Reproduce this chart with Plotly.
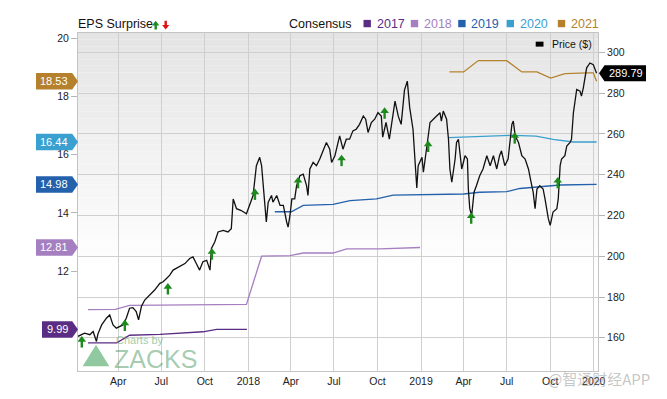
import plotly.graph_objects as go

FONT = "Liberation Sans, Arial, Helvetica, sans-serif"

# ---------------- data ----------------
price_dates = [
    "2017-01-06", "2017-01-20", "2017-01-31", "2017-02-07", "2017-02-14", "2017-02-17", "2017-02-25",
    "2017-03-07", "2017-03-14", "2017-03-21", "2017-03-28", "2017-04-04", "2017-04-11", "2017-04-18",
    "2017-04-25", "2017-05-02", "2017-05-09", "2017-05-14", "2017-05-20", "2017-05-27", "2017-06-07",
    "2017-06-17", "2017-06-28", "2017-07-05", "2017-07-12", "2017-07-19", "2017-07-26", "2017-08-02",
    "2017-08-09", "2017-08-20", "2017-08-30", "2017-09-06", "2017-09-13", "2017-09-20", "2017-09-27",
    "2017-10-05", "2017-10-12", "2017-10-15", "2017-10-22", "2017-10-29", "2017-11-09", "2017-11-19",
    "2017-11-26", "2017-11-30", "2017-12-07", "2017-12-17", "2017-12-28", "2018-01-04", "2018-01-11",
    "2018-01-18", "2018-01-25", "2018-01-29", "2018-02-05", "2018-02-08", "2018-02-12", "2018-02-19",
    "2018-02-22", "2018-03-02", "2018-03-09", "2018-03-16", "2018-03-23", "2018-03-26", "2018-03-30",
    "2018-04-03", "2018-04-09", "2018-04-13", "2018-04-20", "2018-04-27", "2018-05-04", "2018-05-07",
    "2018-05-11", "2018-05-18", "2018-05-25", "2018-06-01", "2018-06-12", "2018-06-15", "2018-06-22",
    "2018-06-26", "2018-07-03", "2018-07-10", "2018-07-13", "2018-07-20", "2018-07-27", "2018-08-03",
    "2018-08-10", "2018-08-17", "2018-08-24", "2018-09-01", "2018-09-06", "2018-09-11", "2018-09-18",
    "2018-09-25", "2018-10-02", "2018-10-09", "2018-10-12", "2018-10-19", "2018-10-26", "2018-11-07",
    "2018-11-14", "2018-11-20", "2018-11-27", "2018-12-03", "2018-12-08", "2018-12-15", "2018-12-19",
    "2018-12-23", "2018-12-26", "2019-01-03", "2019-01-06", "2019-01-13", "2019-01-20", "2019-01-27",
    "2019-02-03", "2019-02-10", "2019-02-13", "2019-02-17", "2019-02-24", "2019-02-28", "2019-03-03",
    "2019-03-07", "2019-03-14", "2019-03-17", "2019-03-21", "2019-03-28", "2019-04-04", "2019-04-09",
    "2019-04-11", "2019-04-14", "2019-04-18", "2019-04-23", "2019-04-28", "2019-05-05", "2019-05-12",
    "2019-05-20", "2019-05-27", "2019-06-03", "2019-06-10", "2019-06-16", "2019-06-20", "2019-06-27",
    "2019-07-04", "2019-07-12", "2019-07-15", "2019-07-19", "2019-07-26", "2019-08-02", "2019-08-09",
    "2019-08-16", "2019-08-23", "2019-08-26", "2019-08-30", "2019-09-03", "2019-09-09", "2019-09-16",
    "2019-09-20", "2019-09-27", "2019-10-01", "2019-10-07", "2019-10-15", "2019-10-18", "2019-10-22",
    "2019-10-25", "2019-11-01", "2019-11-05", "2019-11-12", "2019-11-15", "2019-11-19", "2019-11-26",
    "2019-12-03", "2019-12-06", "2019-12-10", "2019-12-17", "2019-12-24", "2019-12-31", "2020-01-07",
]
price_values = [
    160.7, 162.3, 161.5, 163.1, 158.2, 161.8, 166.3,
    169.6, 171.2, 166.3, 164.7, 165.6, 166.3, 169.6,
    174.5, 174.8, 172.9, 168.8, 175.3, 178.5, 181.0,
    183.4, 186.7, 187.5, 189.1, 190.7, 193.2, 194.0,
    194.8, 196.4, 198.9, 199.7, 196.4, 193.2, 197.3,
    198.0, 193.2, 203.8, 207.0, 211.9, 212.7, 211.9,
    213.5, 228.1, 223.3, 222.4, 220.8, 224.9, 229.8,
    244.4, 248.5, 244.4, 221.7, 216.8, 226.5, 229.8,
    226.5, 229.8, 224.9, 224.9, 216.8, 214.3, 220.0,
    228.1, 228.1, 234.6, 239.5, 240.3, 234.6, 229.8,
    242.8, 246.0, 244.4, 247.7, 254.1, 255.8, 252.5,
    246.0, 249.3, 255.8, 259.0, 252.5, 257.4, 257.4,
    261.5, 262.3, 264.7, 268.8, 267.2, 260.7, 265.6,
    267.2, 270.4, 268.8, 258.4, 265.6, 257.4, 276.1,
    268.6, 264.7, 281.5, 285.9, 273.0, 262.3, 250.1,
    233.5, 244.4, 248.5, 241.2, 254.1, 265.6, 267.2,
    268.8, 270.4, 266.3, 271.2, 267.2, 257.4, 242.8,
    236.3, 247.7, 255.8, 257.4, 242.8, 249.3, 247.7,
    233.0, 223.3, 220.0, 231.4, 234.6, 239.5, 242.8,
    249.3, 244.4, 249.3, 242.8, 249.3, 251.7, 244.4,
    247.7, 264.7, 266.3, 259.0, 255.8, 249.3, 247.7,
    242.8, 234.6, 231.4, 223.3, 233.0, 234.6, 233.0,
    228.1, 218.4, 215.1, 221.7, 223.3, 228.1, 244.4,
    247.7, 249.3, 254.1, 255.8, 257.4, 270.4, 281.8,
    281.0, 278.5, 282.6, 292.4, 294.8, 294.0, 289.79,
]

c2017_dates = ["2017-01-27", "2017-03-29", "2017-04-25", "2017-06-28", "2017-09-27", "2017-10-26", "2017-12-29"]
c2017_eps = [9.53, 9.53, 9.79, 9.82, 9.91, 9.99, 9.99]

c2018_dates = ["2017-01-27", "2017-03-26", "2017-04-25", "2017-12-28", "2018-01-29", "2018-03-30",
               "2018-04-27", "2018-06-29", "2018-07-28", "2018-10-06", "2018-12-30"]
c2018_eps = [10.67, 10.68, 10.82, 10.85, 12.51, 12.53, 12.62, 12.62, 12.76, 12.76, 12.81]

c2019_dates = ["2018-02-26", "2018-04-02", "2018-04-27", "2018-06-29", "2018-08-04", "2018-09-29",
               "2018-11-03", "2019-01-20", "2019-04-01", "2019-05-05", "2019-07-01", "2019-07-29",
               "2019-08-26", "2019-10-22", "2020-01-07"]
c2019_eps = [14.04, 14.04, 14.26, 14.29, 14.42, 14.48, 14.61, 14.63, 14.65, 14.71, 14.73, 14.84,
             14.88, 14.96, 14.98]

c2020_dates = ["2019-02-28", "2019-05-05", "2019-07-15", "2019-09-01", "2019-10-07", "2019-11-19", "2020-01-07"]
c2020_eps = [16.59, 16.64, 16.67, 16.64, 16.53, 16.44, 16.44]

c2021_dates = ["2019-03-02", "2019-04-01", "2019-05-02", "2019-07-01", "2019-08-02", "2019-09-03",
               "2019-10-02", "2019-11-01", "2019-12-17", "2019-12-31", "2020-01-07"]
c2021_eps = [18.85, 18.85, 19.24, 19.24, 18.85, 18.85, 18.64, 18.79, 18.82, 18.82, 18.53]

surprise_dates = ["2017-01-14", "2017-04-15", "2017-07-15", "2017-10-16", "2018-01-15", "2018-04-16",
                  "2018-07-17", "2018-10-16", "2019-01-16", "2019-04-17", "2019-07-18", "2019-10-17"]
surprise_prices = [158.2, 166.3, 184.2, 201.3, 230.6, 236.3, 247.2, 270.4, 254.1, 218.9, 258.2, 236.3]

tick_dates = ["2017-04-01", "2017-07-01", "2017-10-01", "2018-01-01", "2018-04-01", "2018-07-01",
              "2018-10-01", "2019-01-01", "2019-04-01", "2019-07-01", "2019-10-01", "2020-01-01"]
tick_labels = ["Apr", "Jul", "Oct", "2018", "Apr", "Jul", "Oct", "2019", "Apr", "Jul", "Oct", "2020"]

years = ["2017", "2018", "2019", "2020", "2021"]
year_colors = ["#5b2c83", "#a57fc0", "#2461ac", "#3aa0cf", "#b5812d"]
cons_dates = [c2017_dates, c2018_dates, c2019_dates, c2020_dates, c2021_dates]
cons_eps = [c2017_eps, c2018_eps, c2019_eps, c2020_eps, c2021_eps]

# ---------------- layout constants ----------------
# the page body has an 8px margin, so the figure is made 8px smaller and
# all "page pixel" positions below are converted accordingly.
OFF = 8
W, H = 667 - OFF, 399 - OFF
PL, PR, PT, PB = 78, 598, 33, 373          # plot area in page pixels
ML, MR, MT, MB = PL - OFF, 667 - PR, PT - OFF, 399 - PB
PW = PR - PL
PH = PB - PT
EPS_RANGE = [8.56, 20.19]
PRICE_RANGE = [143.7, 309.5]


def px_x(px):
    return (px - PL) / PW


def px_y(py):
    return 1 - (py - PT) / PH


eps_per_px = (EPS_RANGE[1] - EPS_RANGE[0]) / PH
price_per_px = (PRICE_RANGE[1] - PRICE_RANGE[0]) / PH

GREEN = "#1e8a1e"
RED = "#e01010"

fig = go.Figure()

for yr, col, d, v in zip(years, year_colors, cons_dates, cons_eps):
    fig.add_trace(go.Scatter(x=d, y=v, mode="lines", line=dict(color=col, width=1.3),
                             yaxis="y", showlegend=False, hoverinfo="skip"))

fig.add_trace(go.Scatter(x=price_dates, y=price_values, mode="lines",
                         line=dict(color="#111111", width=1.3), yaxis="y2",
                         showlegend=False, name="Price ($)"))

# EPS surprise arrows: head (triangle) + stem (short vertical bar)
fig.add_trace(go.Scatter(x=surprise_dates, y=[p + 1.6 * price_per_px for p in surprise_prices],
                         mode="markers", yaxis="y2", showlegend=False, hoverinfo="skip",
                         marker=dict(symbol="triangle-up", size=7.5, color=GREEN,
                                     line=dict(width=0))))
fig.add_trace(go.Scatter(x=surprise_dates, y=[p - 2.6 * price_per_px for p in surprise_prices],
                         mode="markers", yaxis="y2", showlegend=False, hoverinfo="skip",
                         marker=dict(symbol="line-ns", size=5, color=GREEN,
                                     line=dict(width=2.4, color=GREEN))))

shapes = []
annotations = []

# background gradient
N = 36
g_top, g_bot = 1.0, 0.30
for i in range(N):
    y1 = g_top - i * (g_top - g_bot) / N
    y0 = y1 - (g_top - g_bot) / N
    g = int(round(228 + (255 - 228) * (i + 0.5) / N))
    shapes.append(dict(type="rect", xref="paper", yref="paper", x0=0, x1=1, y0=y0, y1=y1,
                       fillcolor=f"rgb({g},{g},{g})", line=dict(width=0), layer="below"))

# left consensus tags
tip = px_x(PL)
body_r = px_x(PL - 5.8)
half = 8.3 * eps_per_px
for yr, col, v in zip(years, year_colors, cons_eps):
    val = v[-1]
    label = f"{val:.2f}"
    left = px_x(42 if len(label) <= 4 else 36)
    path = (f"M {left},{val - half} L {body_r},{val - half} L {tip},{val} "
            f"L {body_r},{val + half} L {left},{val + half} Z")
    shapes.append(dict(type="path", xref="paper", yref="y", path=path, fillcolor=col,
                       line=dict(width=0), layer="above"))
    annotations.append(dict(x=(left + body_r) / 2, y=val, xref="paper", yref="y", text=label,
                            showarrow=False, font=dict(family=FONT, size=11, color="white"),
                            xanchor="center", yanchor="middle"))

# right price tag
last_price = price_values[-1]
ph = 8.0 * price_per_px
r_tip = px_x(599)
r_body = px_x(604.5)
r_right = px_x(646)
path = (f"M {r_tip},{last_price} L {r_body},{last_price + ph} L {r_right},{last_price + ph} "
        f"L {r_right},{last_price - ph} L {r_body},{last_price - ph} Z")
shapes.append(dict(type="path", xref="paper", yref="y2", path=path, fillcolor="black",
                   line=dict(width=0), layer="above"))
annotations.append(dict(x=(r_body + r_right) / 2 + 0.002, y=last_price, xref="paper", yref="y2",
                        text=f"{last_price:.2f}", showarrow=False,
                        font=dict(family=FONT, size=11, color="white"),
                        xanchor="center", yanchor="middle"))


def arrow_path(cx, y_tip, y_tail):
    """Arrow in page pixels -> paper path. Head at y_tip."""
    sgn = 1 if y_tail > y_tip else -1
    head_len = 4.6
    hw, sw = 3.6, 1.2
    yb = y_tip + sgn * head_len
    pts = [(cx, y_tip), (cx + hw, yb), (cx + sw, yb), (cx + sw, y_tail),
           (cx - sw, y_tail), (cx - sw, yb), (cx - hw, yb)]
    s = "M " + " L ".join(f"{px_x(a):.5f},{px_y(b):.5f}" for a, b in pts) + " Z"
    return s


# top legend: EPS Surprise
ly = px_y(24)
annotations.append(dict(x=0, y=ly, xref="paper", yref="paper", text="EPS Surprise", showarrow=False,
                        xanchor="left", yanchor="middle", xshift=-2,
                        font=dict(family=FONT, size=12.5, color="#111")))
shapes.append(dict(type="path", xref="paper", yref="paper", path=arrow_path(155.7, 20.8, 29.5),
                   fillcolor=GREEN, line=dict(width=0)))
shapes.append(dict(type="path", xref="paper", yref="paper", path=arrow_path(165.7, 29.5, 20.8),
                   fillcolor=RED, line=dict(width=0)))

# consensus legend
annotations.append(dict(x=px_x(286.5), y=ly, xref="paper", yref="paper", text="Consensus",
                        showarrow=False, xanchor="left", yanchor="middle",
                        font=dict(family=FONT, size=12.5, color="#111")))
sq_x = [363.5, 410.8, 458.2, 506.6, 557.8]
for yr, col, sx in zip(years, year_colors, sq_x):
    shapes.append(dict(type="rect", xref="paper", yref="paper", x0=px_x(sx), x1=px_x(sx + 7.4),
                       y0=px_y(27.2), y1=px_y(19.8), fillcolor=col, line=dict(width=0)))
    annotations.append(dict(x=px_x(sx + 11), y=ly, xref="paper", yref="paper", text=yr,
                            showarrow=False, xanchor="left", yanchor="middle",
                            font=dict(family=FONT, size=12.5, color=col)))

# price legend inside plot
shapes.append(dict(type="rect", xref="paper", yref="paper", x0=px_x(535.7), x1=px_x(543.5),
                   y0=px_y(46.7), y1=px_y(41.7), fillcolor="black", line=dict(width=0)))
annotations.append(dict(x=px_x(549.5), y=px_y(44.2), xref="paper", yref="paper", text="Price ($)",
                        showarrow=False, xanchor="left", yanchor="middle",
                        font=dict(family=FONT, size=10.5, color="#111")))

# Zacks watermark
shapes.append(dict(type="path", xref="paper", yref="paper",
                   path=f"M {px_x(82.7)},{px_y(368.3)} L {px_x(96)},{px_y(346.7)} "
                        f"L {px_x(109.3)},{px_y(368.3)} Z",
                   fillcolor="rgba(70,165,95,0.6)", line=dict(width=0), layer="above"))
annotations.append(dict(x=px_x(114), y=px_y(341.5), xref="paper", yref="paper", text="Charts by",
                        showarrow=False, xanchor="left", yanchor="middle",
                        font=dict(family=FONT, size=11, color="rgba(90,170,110,0.6)")))
annotations.append(dict(x=px_x(112), y=px_y(360.5), xref="paper", yref="paper", text="ZACKS",
                        showarrow=False, xanchor="left", yanchor="middle",
                        font=dict(family=FONT, size=25, color="rgba(90,160,110,0.55)")))

# 智通财经 watermark
annotations.append(dict(x=px_x(599), y=px_y(380.5), xref="paper", yref="paper", text="@智通财经APP",
                        showarrow=False, xanchor="center", yanchor="middle",
                        font=dict(family="Noto Sans CJK SC, sans-serif", size=15,
                                  color="rgba(150,150,150,0.55)")))

fig.update_layout(
    width=W, height=H,
    margin=dict(l=ML, r=MR, t=MT, b=MB, pad=0),
    paper_bgcolor="white", plot_bgcolor="white",
    font=dict(family=FONT, size=10.5, color="#222"),
    showlegend=False,
    xaxis=dict(type="date", range=["2017-01-06", "2020-01-10"], tickvals=tick_dates,
               ticktext=tick_labels, ticks="", showgrid=True, gridcolor="#cfcfcf", gridwidth=1,
               showline=True, linecolor="#c4c4c4", linewidth=1, mirror=True, zeroline=False,
               tickfont=dict(family=FONT, size=10.5, color="#222")),
    yaxis=dict(range=EPS_RANGE, tickvals=[12, 14, 16, 18, 20], showgrid=False, zeroline=False,
               ticks="outside", ticklen=6, tickcolor="#b5b5b5", showline=True, linecolor="#c4c4c4",
               mirror=True, tickfont=dict(family=FONT, size=10.5, color="#222")),
    yaxis2=dict(range=PRICE_RANGE, overlaying="y", side="right",
                tickvals=[160, 180, 200, 220, 240, 260, 280, 300], showgrid=True,
                gridcolor="#cfcfcf", gridwidth=1, zeroline=False, ticks="outside", ticklen=6,
                tickcolor="#b5b5b5", showline=False,
                tickfont=dict(family=FONT, size=10.5, color="#222")),
    shapes=shapes,
    annotations=annotations,
)

fig.write_html("out.html")
